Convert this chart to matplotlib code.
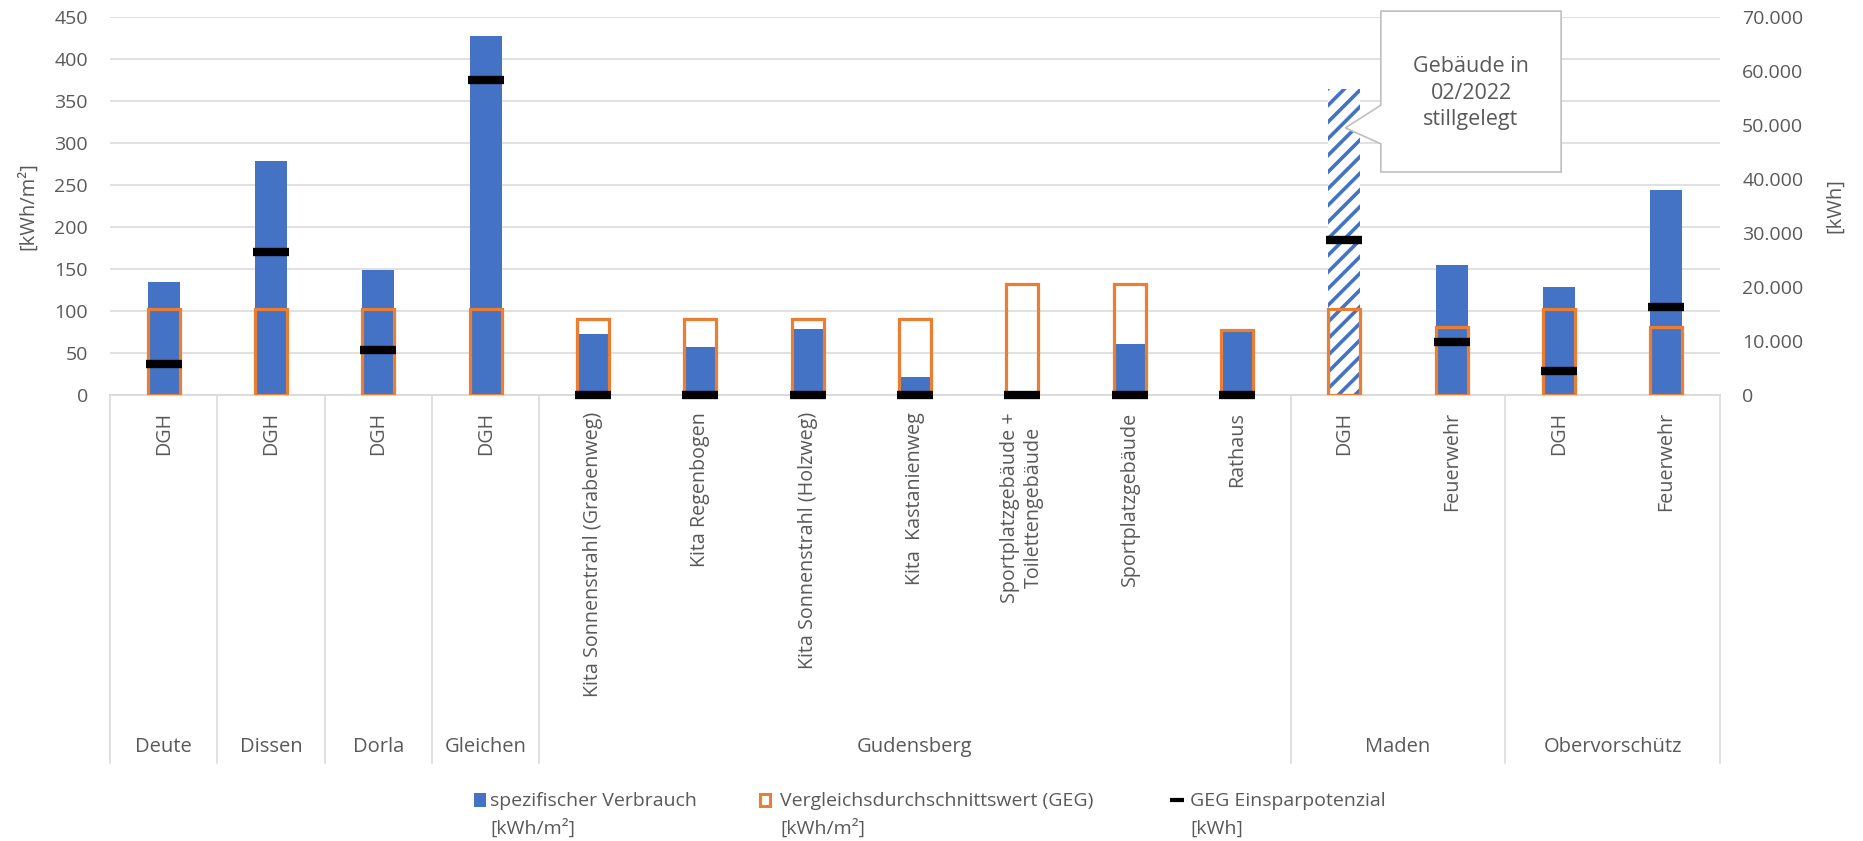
import matplotlib
matplotlib.use("Agg")
import matplotlib.pyplot as plt
import numpy as np
from matplotlib.patches import Polygon, Rectangle
from matplotlib.lines import Line2D
from matplotlib.ticker import FuncFormatter, MultipleLocator

plt.rcParams['font.family'] = ['Open Sans', 'DejaVu Sans']
plt.rcParams['hatch.linewidth'] = 2.6

# --- data -------------------------------------------------------------
orte = ["Deute", "Dissen", "Dorla", "Gleichen",
        "Gudensberg", "Gudensberg", "Gudensberg", "Gudensberg",
        "Gudensberg", "Gudensberg", "Gudensberg",
        "Maden", "Maden", "Obervorschütz", "Obervorschütz"]
gebaeude = ["DGH", "DGH", "DGH", "DGH",
            "Kita Sonnenstrahl (Grabenweg)", "Kita Regenbogen",
            "Kita Sonnenstrahl (Holzweg)", "Kita  Kastanienweg",
            "Sportplatzgebäude +\nToilettengebäude", "Sportplatzgebäude",
            "Rathaus", "DGH", "Feuerwehr", "DGH", "Feuerwehr"]
verbrauch = [135, 279, 149, 427, 73, 57, 78, 21, 0, 61, 75, 364, 155, 129, 244]        # kWh/m²
vergleich = [102, 102, 102, 102, 90, 90, 90, 90, 132, 132, 77, 102, 81, 102, 81]       # kWh/m²
einsparpotenzial = [5800, 26400, 8300, 58400, 0, 0, 0, 0, 0, 0, 0,
                    28700, 9750, 4500, 16350]                                         # kWh
stillgelegt = [False, False, False, False, False, False, False, False,
               False, False, False, True, False, False, False]
hinweis = "Gebäude in\n02/2022\nstillgelegt"

legend_labels = [("spezifischer Verbrauch", "[kWh/m²]"),
                 ("Vergleichsdurchschnittswert (GEG)", "[kWh/m²]"),
                 ("GEG Einsparpotenzial", "[kWh]")]

# --- style ------------------------------------------------------------
BLUE = "#4472C4"
ORANGE = "#ED7D31"
GRID = "#D9D9D9"
TXT = "#595959"

W, H, DPI = 1863, 841, 100
fig = plt.figure(figsize=(W / DPI, H / DPI), dpi=DPI)
fig.patch.set_facecolor("white")

L, R, T, B = 110, 1720, 17, 395
ax = fig.add_axes([L / W, 1 - B / H, (R - L) / W, (B - T) / H])
ax2 = ax.twinx()
ax2.set_zorder(ax.get_zorder() + 1)
ax2.patch.set_visible(False)


def fx(px):
    return px / W


def fy(py):
    return 1 - py / H


n = len(gebaeude)
x = np.arange(n)
bw = 0.3

# consumption bars
bars = ax.bar(x, verbrauch, width=bw, color=BLUE, linewidth=0, zorder=2)
for b, flag in zip(bars, stillgelegt):
    if flag:
        b.set_facecolor("white")
        b.set_edgecolor(BLUE)
        b.set_hatch("//")
        b.set_linewidth(0)

# reference values as outlined bars
ax.bar(x, vergleich, width=bw, fill=False, edgecolor=ORANGE, linewidth=2.3, zorder=3)

# savings potential on secondary axis
ax2.plot(x, einsparpotenzial, linestyle="none", marker="_", markersize=26,
         markeredgewidth=6.0, color="black", clip_on=False, zorder=4)

# axes limits / ticks
ax.set_xlim(-0.5, n - 0.5)
ax.set_ylim(0, 450)
ax2.set_ylim(0, 70000)
ax.yaxis.set_major_locator(MultipleLocator(50))
ax2.yaxis.set_major_locator(MultipleLocator(10000))
ax2.yaxis.set_major_formatter(FuncFormatter(lambda v, p: f"{int(v):,}".replace(",", ".")))
ax.set_xticks([])
ax2.set_xticks([])
ax.tick_params(axis="y", length=0, pad=16, labelsize=14, labelcolor=TXT)
ax2.tick_params(axis="y", length=0, pad=16, labelsize=14, labelcolor=TXT)

ax.yaxis.grid(True, color=GRID, linewidth=1.1)
ax.set_axisbelow(True)
for a in (ax, ax2):
    for s in a.spines.values():
        s.set_visible(False)
ax.spines["bottom"].set_visible(True)
ax.spines["bottom"].set_color(GRID)
ax.spines["bottom"].set_linewidth(1.3)

# axis titles
fig.text(fx(28), fy(206), "[kWh/m²]", rotation=90, ha="center", va="center",
         fontsize=14.5, color=TXT)
fig.text(fx(1835), fy(206), "[kWh]", rotation=90, ha="center", va="center",
         fontsize=14.5, color=TXT)

# two-level category axis
xt = ax.get_xaxis_transform()
axh = B - T
for i, name in enumerate(gebaeude):
    ax.text(i, -(412 - B) / axh, name, transform=xt, rotation=90, ha="center", va="top",
            multialignment="center", linespacing=1.25, fontsize=14.2, color=TXT)

bounds = [-0.5]
for i in range(1, n):
    if orte[i] != orte[i - 1]:
        bounds.append(i - 0.5)
bounds.append(n - 0.5)
for b in bounds:
    ax.plot([b, b], [0, -(763 - B) / axh], transform=xt, color=GRID, linewidth=1.1,
            clip_on=False, zorder=1)
for a0, a1 in zip(bounds[:-1], bounds[1:]):
    ort = orte[int(round(a0 + 0.5))]
    ax.text((a0 + a1) / 2, -(747 - B) / axh, ort, transform=xt, ha="center", va="center",
            fontsize=14.5, color=TXT)

# callout for the decommissioned building
k = stillgelegt.index(True)
bx0, bx1 = k + 0.34, k + 2.02
by0, by1 = 265.5, 457
callout = Polygon([(bx0, by1), (bx1, by1), (bx1, by0), (bx0, by0), (bx0, 299),
                   (k + 0.01, 318), (bx0, 345)], closed=True, facecolor="white",
                  edgecolor="#BFBFBF", linewidth=1.2, zorder=5, clip_on=False)
ax.add_patch(callout)
ax.text((bx0 + bx1) / 2, 359.5, hinweis, ha="center", va="center", linespacing=1.35,
        fontsize=15.5, color=TXT, zorder=6)

# legend
items = [(474, 490), (759, 780), (1170, 1190)]
for j, ((hx, tx), (l1, l2)) in enumerate(zip(items, legend_labels)):
    if j == 0:
        fig.add_artist(Rectangle((fx(hx), fy(807)), fx(12), 14 / H, transform=fig.transFigure,
                                 facecolor=BLUE, linewidth=0))
    elif j == 1:
        fig.add_artist(Rectangle((fx(hx + 1), fy(806)), fx(10), 12 / H, transform=fig.transFigure,
                                 facecolor="white", edgecolor=ORANGE, linewidth=2.2))
    else:
        fig.add_artist(Line2D([fx(hx), fx(hx + 14)], [fy(800), fy(800)], transform=fig.transFigure,
                              color="black", linewidth=3, solid_capstyle="butt"))
    fig.text(fx(tx), fy(806), l1, ha="left", va="baseline", fontsize=14, color=TXT)
    fig.text(fx(tx), fy(834), l2, ha="left", va="baseline", fontsize=14, color=TXT)

fig.savefig("out.png", dpi=DPI, facecolor="white")
